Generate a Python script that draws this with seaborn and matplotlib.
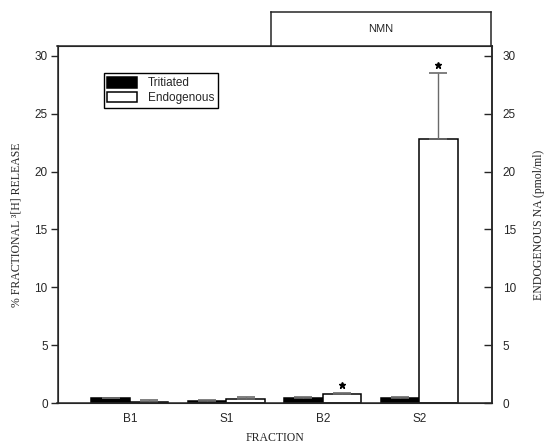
import matplotlib
matplotlib.use("Agg")
import matplotlib.pyplot as plt
import seaborn as sns
import pandas as pd
import numpy as np

fractions = ["B1", "S1", "B2", "S2"]
tritiated = [0.43, 0.15, 0.43, 0.41]
tritiated_err = [0.43, 0.29, 0.49, 0.55]
endogenous = [0.12, 0.35, 0.75, 22.8]
endogenous_err = [0.26, 0.55, 0.83, 28.5]
significant_endo = [False, False, True, True]

sns.set_style("ticks")
plt.rcParams['font.family'] = ['Liberation Sans', 'DejaVu Sans']

df = pd.DataFrame({
    "Fraction": fractions * 2,
    "Series": ["Tritiated"] * 4 + ["Endogenous"] * 4,
    "Value": tritiated + endogenous,
})

fig = plt.figure(figsize=(5.48, 4.46), dpi=100)
ax = fig.add_axes([57.5 / 548, 43 / 446, 434 / 548, 357 / 446])

sns.barplot(data=df, x="Fraction", y="Value", hue="Series",
            palette=["black", "white"], edgecolor="black", linewidth=1.1,
            width=0.8, errorbar=None, ax=ax, legend=True)

bars = list(ax.patches)[:8]
tops = tritiated + endogenous
upper = tritiated_err + endogenous_err
for i, p in enumerate(bars):
    xc = p.get_x() + p.get_width() / 2
    h = tops[i]
    ax.errorbar([xc], [h], yerr=[[0], [upper[i] - h]], fmt="none",
                ecolor="#6a6a6a", elinewidth=1.0, capsize=6.5, capthick=1.2,
                zorder=1)
    if i >= 4 and significant_endo[i - 4]:
        ax.plot([xc], [upper[i] + 0.7], marker="*", color="black",
                markersize=5, linestyle="none", zorder=3)

ax.set_xlim(-0.75, 3.75)
ax.set_ylim(0, 30.86)
ax.set_yticks([0, 5, 10, 15, 20, 25, 30])
ax.tick_params(axis="y", direction="out", length=5, width=1, labelsize=8.5,
               pad=2, right=False)
ax.tick_params(axis="x", length=0, labelsize=8.5, pad=7)
for s in ax.spines.values():
    s.set_linewidth(1.1)
    s.set_visible(True)

ax.set_xlabel("FRACTION", family="Liberation Serif", fontsize=8.5, labelpad=5)
ax.set_ylabel("% FRACTIONAL \u00b3[H] RELEASE", family="Liberation Serif",
              fontsize=8.5, labelpad=9)

ax2 = ax.twinx()
ax2.set_ylim(ax.get_ylim())
ax2.set_yticks([0, 5, 10, 15, 20, 25, 30])
ax2.tick_params(axis="y", which="both", direction="in", length=6, width=1,
                labelsize=8.5, pad=8, left=False, right=True)
ax2.spines["right"].set_linewidth(1.1)
ax2.set_ylabel("ENDOGENOUS NA (pmol/ml)", family="Liberation Serif",
               fontsize=8.5, labelpad=12)

leg = ax.legend(loc="upper left", bbox_to_anchor=(0.107, 0.924),
                borderaxespad=0, frameon=True, fancybox=False,
                fontsize=8.5, handlelength=2.5, handleheight=1.05,
                labelspacing=0.2, borderpad=0.3, handletextpad=0.9)
leg.get_frame().set_edgecolor("black")
leg.get_frame().set_linewidth(1.0)
leg.get_frame().set_alpha(1)

bx = fig.add_axes([271 / 548, (446 - 46) / 446, 220 / 548, 34 / 446])
bx.set_xticks([])
bx.set_yticks([])
for s in bx.spines.values():
    s.set_linewidth(1.1)
bx.text(0.5, 0.5, "NMN", ha="center", va="center", fontsize=8,
        transform=bx.transAxes)

fig.savefig("out.png", dpi=100)
